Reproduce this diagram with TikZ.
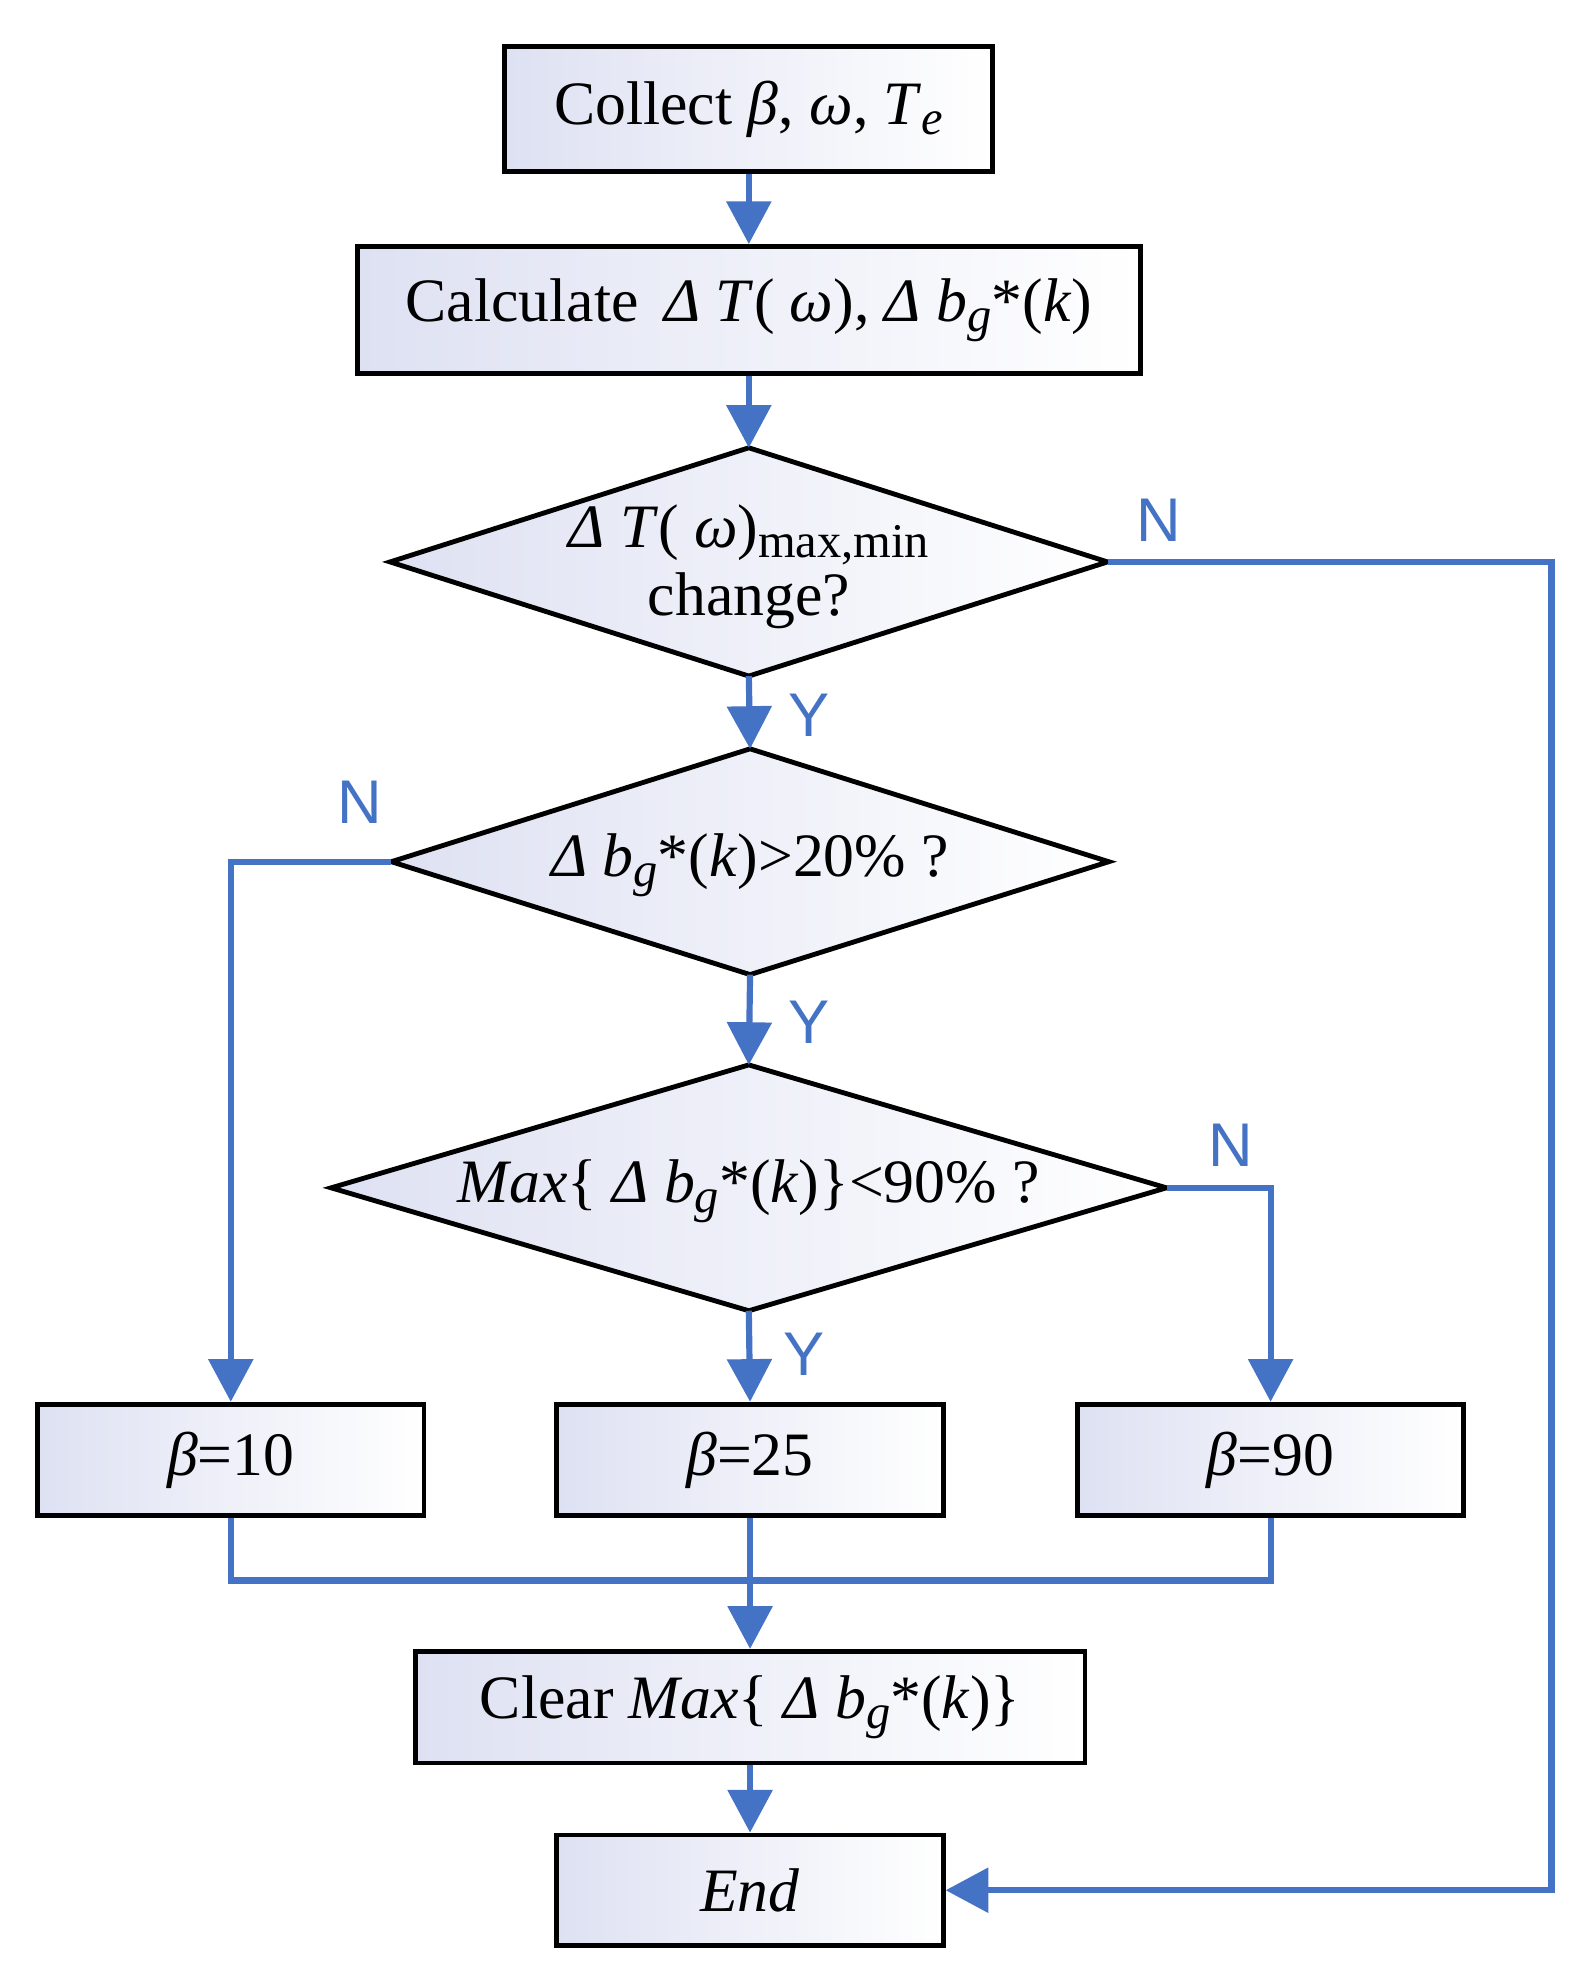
\documentclass[tikz,border=0pt]{standalone}
\usepackage{fontspec}
\setmainfont{Liberation Serif}
\newfontfamily\lab{Liberation Sans}
\usetikzlibrary{shapes.geometric,arrows.meta}
\definecolor{bl}{RGB}{68,114,196}
\definecolor{sh}{RGB}{222,225,242}
\newcommand{\ii}[1]{\textit{#1}}
\newcommand{\sbs}[1]{\raisebox{-0.35ex}{\fontsize{22}{22}\selectfont #1}}
\newcommand{\mkdia}[5]{% name, cx, cy, halfw, halfh
  \coordinate (#1n) at (#2,#3-#5);
  \coordinate (#1s) at (#2,#3+#5);
  \coordinate (#1e) at (#2+#4,#3);
  \coordinate (#1w) at (#2-#4,#3);
  \draw[line width=2.2pt,left color=sh,right color=white] (#1n) -- (#1e) -- (#1s) -- (#1w) -- cycle;}
\begin{document}
\begin{tikzpicture}[x=0.02cm,y=-0.02cm,
  box/.style={draw=black,line width=2.2pt,left color=sh,right color=white,inner sep=0,font=\fontsize{28}{31}\selectfont},
  txt/.style={inner sep=0,font=\fontsize{28}{31}\selectfont,align=center},
  ar/.style={draw=bl,line width=2.8pt,-{Triangle[length=0.68cm,width=0.7cm]}},
  ln/.style={draw=bl,line width=2.8pt},
  yn/.style={text=bl,font=\lab\fontsize{28}{30}\selectfont}]
\useasboundingbox (0,0) rectangle (1270,1573);
\node[box,minimum width=389*0.02cm,minimum height=100*0.02cm] (b1) at (597,87) {Collect \ii{β}, \ii{ω}, \ii{T}\sbs{\ii{e}}};
\node[box,minimum width=624*0.02cm,minimum height=101*0.02cm] (b2) at (597,247) {Calculate \,\ii{Δ T}( \ii{ω}), \ii{Δ b}\sbs{\ii{g}}*(\ii{k})};
\mkdia{d1}{597}{448}{286}{91}
\node[txt] (t1) at (597,452) {\ii{Δ T}( \ii{ω})\sbs{max,min}\\change?};
\mkdia{d2}{598}{687}{286}{90}
\node[txt] (t2) at (598,690) {\ii{Δ b}\sbs{\ii{g}}*(\ii{k})>20\% ?};
\mkdia{d3}{597}{947}{333}{98}
\node[txt] (t3) at (597,950) {\ii{Max}\{ \ii{Δ b}\sbs{\ii{g}}*(\ii{k})\}<90\% ?};
\node[box,minimum width=308*0.02cm,minimum height=89*0.02cm] (p1) at (184,1164) {\ii{β}=10};
\node[box,minimum width=308*0.02cm,minimum height=89*0.02cm] (p2) at (598,1164) {\ii{β}=25};
\node[box,minimum width=308*0.02cm,minimum height=89*0.02cm] (p3) at (1013,1164) {\ii{β}=90};
\node[box,minimum width=534*0.02cm,minimum height=89*0.02cm] (cl) at (598,1361) {Clear \ii{Max}\{ \ii{Δ b}\sbs{\ii{g}}*(\ii{k})\}};
\node[box,minimum width=308*0.02cm,minimum height=88*0.02cm] (en) at (598,1507) {\ii{End}};
\coordinate (m) at (598,1260);
\draw[ar] (b1) -- (b2);
\draw[ar] (b2) -- (d1n);
\draw[ar] (d1s) -- (d2n);
\draw[ar] (d2s) -- (d3n);
\draw[ar] (d3s) -- (p2.north);
\draw[ar] (d1e) -- (1237,448) |- (en.east);
\draw[ar] (d2w) -| (p1.north);
\draw[ar] (d3e) -| (p3.north);
\draw[ln] (p1.south) |- (m);
\draw[ln] (p3.south) |- (m);
\draw[ln] (p2.south) -- (m);
\draw[ar] (m) -- (cl.north);
\draw[ar] (cl) -- (en);
\node[yn] (n1) at (924,415) {N};
\node[yn] (y1) at (645,570) {Y};
\node[yn] (n2) at (287,640) {N};
\node[yn] (y2) at (645,815) {Y};
\node[yn] (n3) at (981,913) {N};
\node[yn] (y3) at (641,1080) {Y};
\end{tikzpicture}
\end{document}
